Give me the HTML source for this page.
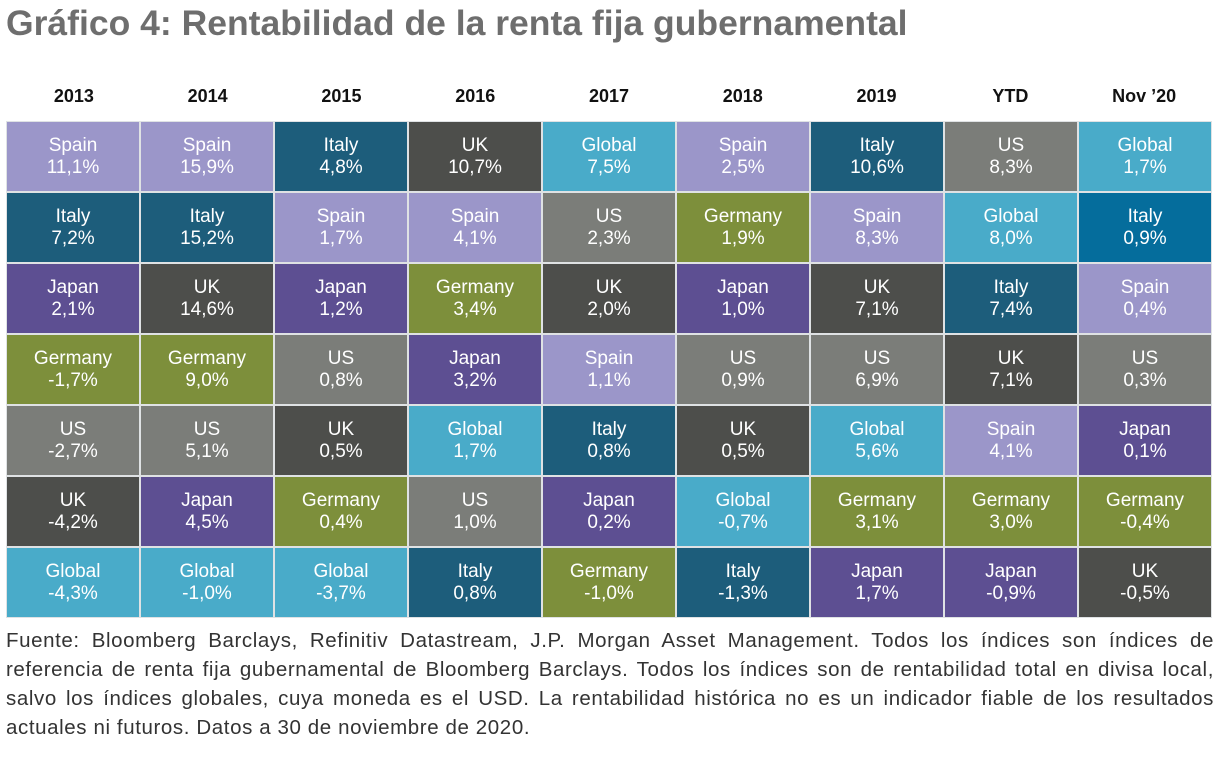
<!DOCTYPE html>
<html><head><meta charset="utf-8"><style>
body{margin:0;width:1229px;height:760px;background:#fff;font-family:"Liberation Sans","DejaVu Sans",sans-serif;position:relative;overflow:hidden}
h1{position:absolute;left:6px;top:3px;margin:0;font-size:35.5px;font-weight:bold;color:#6e6e6e;letter-spacing:0px}
.hd{position:absolute;top:86px;left:7px;width:1204px;display:grid;grid-template-columns:repeat(9,1fr);font-weight:bold;font-size:18px;color:#111;text-align:center}
.g{position:absolute;left:6px;top:121px;width:1206px;height:497px;background:#dfe2e4;display:grid;grid-template-columns:repeat(9,1fr);grid-template-rows:repeat(7,1fr);gap:2px;padding:1px;box-sizing:border-box}
.g div{color:#fff;font-size:19px;line-height:22px;text-align:center;display:flex;flex-direction:column;justify-content:center}
.S{background:#9b96c9}.I{background:#1d5d7b}.J{background:#5d4f92}.G{background:#7d8f3b}.U{background:#7b7d79}.K{background:#4d4e4b}.L{background:#49abc9}.B{background:#056d9c}
.f{position:absolute;left:6px;top:626px;width:1208px;font-size:20.5px;letter-spacing:0.6px;line-height:29px;color:#333;text-align:justify}
</style></head><body>
<h1>Gráfico 4: Rentabilidad de la renta fija gubernamental</h1>
<div class="hd"><span>2013</span><span>2014</span><span>2015</span><span>2016</span><span>2017</span><span>2018</span><span>2019</span><span>YTD</span><span>Nov ’20</span></div>
<div class="g">
<div class="S">Spain<br>11,1%</div><div class="S">Spain<br>15,9%</div><div class="I">Italy<br>4,8%</div><div class="K">UK<br>10,7%</div><div class="L">Global<br>7,5%</div><div class="S">Spain<br>2,5%</div><div class="I">Italy<br>10,6%</div><div class="U">US<br>8,3%</div><div class="L">Global<br>1,7%</div>
<div class="I">Italy<br>7,2%</div><div class="I">Italy<br>15,2%</div><div class="S">Spain<br>1,7%</div><div class="S">Spain<br>4,1%</div><div class="U">US<br>2,3%</div><div class="G">Germany<br>1,9%</div><div class="S">Spain<br>8,3%</div><div class="L">Global<br>8,0%</div><div class="B">Italy<br>0,9%</div>
<div class="J">Japan<br>2,1%</div><div class="K">UK<br>14,6%</div><div class="J">Japan<br>1,2%</div><div class="G">Germany<br>3,4%</div><div class="K">UK<br>2,0%</div><div class="J">Japan<br>1,0%</div><div class="K">UK<br>7,1%</div><div class="I">Italy<br>7,4%</div><div class="S">Spain<br>0,4%</div>
<div class="G">Germany<br>-1,7%</div><div class="G">Germany<br>9,0%</div><div class="U">US<br>0,8%</div><div class="J">Japan<br>3,2%</div><div class="S">Spain<br>1,1%</div><div class="U">US<br>0,9%</div><div class="U">US<br>6,9%</div><div class="K">UK<br>7,1%</div><div class="U">US<br>0,3%</div>
<div class="U">US<br>-2,7%</div><div class="U">US<br>5,1%</div><div class="K">UK<br>0,5%</div><div class="L">Global<br>1,7%</div><div class="I">Italy<br>0,8%</div><div class="K">UK<br>0,5%</div><div class="L">Global<br>5,6%</div><div class="S">Spain<br>4,1%</div><div class="J">Japan<br>0,1%</div>
<div class="K">UK<br>-4,2%</div><div class="J">Japan<br>4,5%</div><div class="G">Germany<br>0,4%</div><div class="U">US<br>1,0%</div><div class="J">Japan<br>0,2%</div><div class="L">Global<br>-0,7%</div><div class="G">Germany<br>3,1%</div><div class="G">Germany<br>3,0%</div><div class="G">Germany<br>-0,4%</div>
<div class="L">Global<br>-4,3%</div><div class="L">Global<br>-1,0%</div><div class="L">Global<br>-3,7%</div><div class="I">Italy<br>0,8%</div><div class="G">Germany<br>-1,0%</div><div class="I">Italy<br>-1,3%</div><div class="J">Japan<br>1,7%</div><div class="J">Japan<br>-0,9%</div><div class="K">UK<br>-0,5%</div>
</div>
<div class="f">Fuente: Bloomberg Barclays, Refinitiv Datastream, J.P. Morgan Asset Management. Todos los índices son índices de referencia de renta fija gubernamental de Bloomberg Barclays. Todos los índices son de rentabilidad total en divisa local, salvo los índices globales, cuya moneda es el USD. La rentabilidad histórica no es un indicador fiable de los resultados actuales ni futuros. Datos a 30 de noviembre de 2020.</div>
</body></html>
